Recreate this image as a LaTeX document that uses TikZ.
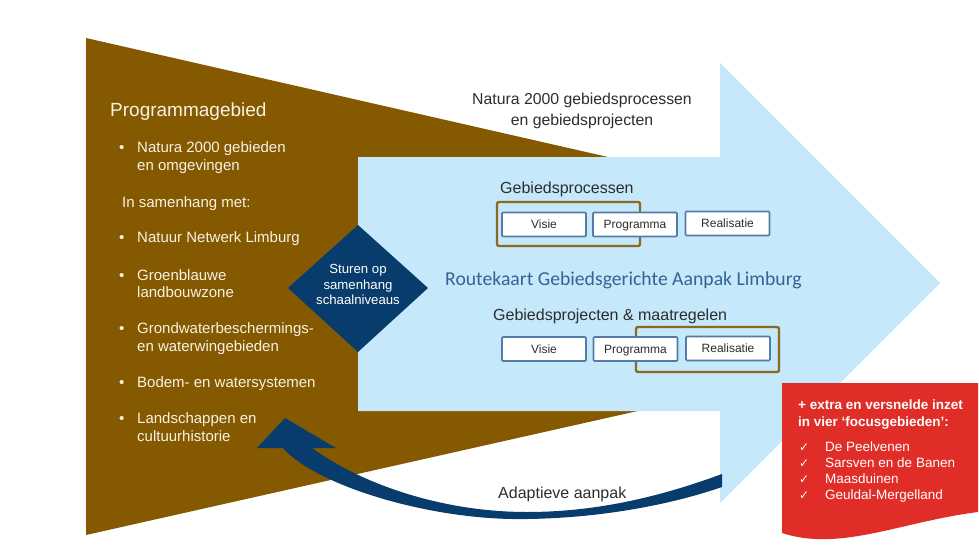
\documentclass[tikz,border=0pt]{standalone}
\usepackage{fontspec}
\setmainfont{Liberation Sans}
\newfontfamily\calfont{Carlito}
\newfontfamily\symfont{DejaVu Sans}
\usetikzlibrary{shapes.geometric}
\definecolor{brownA}{RGB}{133,89,0}
\definecolor{skyA}{RGB}{197,232,251}
\definecolor{navyA}{RGB}{8,60,108}
\definecolor{redA}{RGB}{224,45,40}
\definecolor{creamA}{RGB}{247,242,228}
\definecolor{boxline}{RGB}{84,122,168}
\definecolor{frameA}{RGB}{140,104,32}
\definecolor{titleA}{RGB}{52,100,148}
\definecolor{grayA}{RGB}{45,45,45}
\tikzset{
 lefttext/.style={text=creamA, anchor=base west, inner sep=0pt, font=\fontsize{15}{18}\selectfont},
 bul/.style={text=creamA, anchor=base west, inner sep=0pt, font=\fontsize{15}{18}\selectfont},
 darktext/.style={text=grayA, anchor=base west, inner sep=0pt, font=\fontsize{16}{19}\selectfont},
 stagebox/.style={draw=boxline, line width=1.6pt, fill=white, minimum width=84pt, minimum height=24pt, inner sep=0pt, text height=8.6pt, text depth=0pt, rounded corners=1pt, font=\fontsize{12}{14}\selectfont, text=grayA},
 focusframe/.style={draw=frameA, line width=2.4pt, rounded corners=2pt},
 redtext/.style={text=white, anchor=base west, inner sep=0pt, font=\fontsize{13.5}{16}\selectfont},
 redbold/.style={redtext, font=\fontsize{13.5}{16}\selectfont\bfseries},
 checkmk/.style={text=white, anchor=base west, inner sep=0pt, font=\symfont\fontsize{12}{14}\selectfont},
 diamtext/.style={text=white, anchor=base, inner sep=0pt, font=\fontsize{13.2}{16}\selectfont},
}
\begin{document}
\begin{tikzpicture}[x=1pt,y=-1pt]
\useasboundingbox (0,0) rectangle (979,559);
\fill[white] (0,0) rectangle (979,559);
% brown wedge
\fill[brownA] (86,38) -- (700,178) -- (700,397) -- (86,535) -- cycle;
% light blue arrow
\fill[skyA] (358,157) -- (720,157) -- (720,63) -- (940,283) -- (720,503) -- (720,411) -- (358,411) -- cycle;
% diamond
\fill[navyA] (288,288) -- (358,225) -- (428,288) -- (358,352) -- cycle;
\node[diamtext] (d1) at (358,273) {Sturen op};
\node[diamtext] (d2) at (358,289) {samenhang};
\node[diamtext] (d3) at (358,304) {schaalniveaus};

% left texts
\node[lefttext, font=\fontsize{19}{22}\selectfont] (pg) at (110,117) {Programmagebied};
\node[bul] (b1) at (119,153) {•};
\node[lefttext] (t1a) at (137,153) {Natura 2000 gebieden};
\node[lefttext] (t1b) at (137,170) {en omgevingen};
\node[lefttext] (ism) at (122,207) {In samenhang met:};
\node[bul] (b2) at (119,242) {•};
\node[lefttext] (t2) at (137,242) {Natuur Netwerk Limburg};
\node[bul] (b3) at (119,280) {•};
\node[lefttext] (t3a) at (137,280) {Groenblauwe};
\node[lefttext] (t3b) at (137,297) {landbouwzone};
\node[bul] (b4) at (119,333) {•};
\node[lefttext] (t4a) at (137,333) {Grondwaterbeschermings-};
\node[lefttext] (t4b) at (137,351) {en waterwingebieden};
\node[bul] (b5) at (119,387) {•};
\node[lefttext] (t5) at (137,387) {Bodem- en watersystemen};
\node[bul] (b6) at (119,423) {•};
\node[lefttext] (t6a) at (137,423) {Landschappen en};
\node[lefttext] (t6b) at (137,441) {cultuurhistorie};

% top text
\node[darktext, anchor=base, font=\fontsize{15.8}{19}\selectfont] (n1) at (582,105) {Natura 2000 gebiedsprocessen};
\node[darktext, anchor=base, font=\fontsize{15.8}{19}\selectfont] (n2) at (582,125) {en gebiedsprojecten};

% process rows
\node[darktext] (gp) at (500,193) {Gebiedsprocessen};
\draw[focusframe] (497,202) rectangle (640,246);
\node[stagebox] (v1) at (544,224.5) {Visie};
\node[stagebox] (p1) at (635,224.5) {Programma};
\node[stagebox] (r1) at (727.5,223.5) {Realisatie};

\node[anchor=base west, inner sep=0pt, text=titleA, font=\calfont\fontsize{19.7}{22}\selectfont] (title) at (445,285) {Routekaart Gebiedsgerichte Aanpak Limburg};

\node[darktext] (gm) at (493,320) {Gebiedsprojecten \& maatregelen};
\draw[focusframe] (636,327) rectangle (779,372);
\node[stagebox] (v2) at (544,349) {Visie};
\node[stagebox] (p2) at (635.5,349) {Programma};
\node[stagebox] (r2) at (728,348.5) {Realisatie};

% curved adaptive arrow
\fill[navyA] (283,448) .. controls (315,485) and (430,521) .. (527,519)
  .. controls (600,518) and (670,505) .. (722,487)
  -- (722,474) .. controls (665,495) and (600,512) .. (527,512)
  .. controls (440,512) and (360,483) .. (312,448)
  -- (336,448) -- (285,418) -- (257,448) -- cycle;
\node[darktext] (aa) at (498,498) {Adaptieve aanpak};

% red banner
\fill[redA] (782,383) -- (978,383) -- (978,512) .. controls (900,522) and (840,552) .. (782,533) -- cycle;
\node[redbold] (rb1) at (798,409) {+ extra en versnelde inzet};
\node[redbold] (rb2) at (798,426) {in vier ‘focusgebieden’:};
\node[checkmk] (c1) at (799,451) {✓};
\node[redtext] (f1) at (825,451) {De Peelvenen};
\node[checkmk] (c2) at (799,467) {✓};
\node[redtext] (f2) at (825,467) {Sarsven en de Banen};
\node[checkmk] (c3) at (799,483) {✓};
\node[redtext] (f3) at (825,483) {Maasduinen};
\node[checkmk] (c4) at (799,499) {✓};
\node[redtext] (f4) at (825,499) {Geuldal-Mergelland};
\end{tikzpicture}
\end{document}
